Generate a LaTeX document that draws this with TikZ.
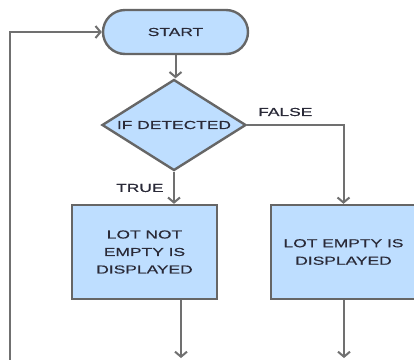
\documentclass[tikz,border=0pt]{standalone}
\usepackage{fontspec}
\usetikzlibrary{shapes.geometric,arrows.meta}
\newfontfamily\lblfont[FakeStretch=1.5,FakeBold=0.4]{Liberation Sans}
\definecolor{boxfill}{HTML}{BEDEFF}
\definecolor{boxline}{HTML}{666666}
\definecolor{wire}{HTML}{707070}
\definecolor{ink}{HTML}{2A2A38}
\tikzset{
  x=1bp, y=-1bp,
  lbl/.style={font=\lblfont\fontsize{11.6bp}{17.5bp}\selectfont, text=ink, align=center, inner sep=0pt},
  shapebox/.style={lbl, draw=boxline, line width=2.4bp, fill=boxfill},
  procbox/.style={shapebox, rectangle, minimum width=145bp, minimum height=94bp},
  termbox/.style={shapebox, rectangle, rounded corners=22bp, minimum width=145bp, minimum height=44bp},
  decbox/.style={shapebox, diamond, shape aspect=1.58, minimum width=144bp, minimum height=91bp},
  flow/.style={draw=wire, line width=2bp, -{Straight Barb[length=5bp,width=12bp]}},
}
\begin{document}
\begin{tikzpicture}
  \useasboundingbox (0,0) rectangle (414,360);
  \fill[white] (0,0) rectangle (414,360);
  \clip (0,0) rectangle (414,360);

  % nodes
  \node[termbox] (start) at (175.5,32) {START};
  \node[decbox]  (dec)   at (174,125) {IF DETECTED};
  \node[procbox] (lbox)  at (144.5,252) {LOT NOT\\EMPTY IS\\DISPLAYED};
  \node[procbox] (rbox)  at (343.5,252) {LOT EMPTY IS\\DISPLAYED};

  % branch labels
  \node[lbl, anchor=west] (flbl) at (258,112) {FALSE};
  \node[lbl, anchor=west] (tlbl) at (116,188) {TRUE};

  % free ends of the connectors
  \coordinate (loopend) at (10,362);
  \coordinate (lout) at (181,358);
  \coordinate (rout) at (344,358);

  % connectors
  \draw[flow] (start.south) -- (start.south |- dec.north);
  \draw[flow] (dec.south) -- (dec.south |- lbox.north);
  \draw[flow] (dec.east) -| (rbox.north);
  \draw[flow] (lout |- lbox.south) -- (lout);
  \draw[flow] (rout |- rbox.south) -- (rout);
  \draw[flow] (loopend) |- (start.west);
\end{tikzpicture}
\end{document}
